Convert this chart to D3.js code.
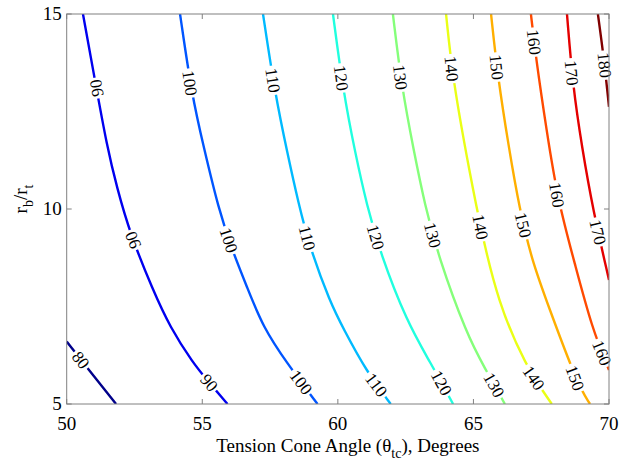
<!DOCTYPE html>
<html><head><meta charset="utf-8">
<script src="https://cdn.jsdelivr.net/npm/d3@7"></script>
<style>body{margin:0;background:#fff}svg{display:block}
text{font-family:"Liberation Serif","Times New Roman",Times,"DejaVu Serif",serif}</style>
</head><body>
<svg id="c" width="619" height="464"></svg>
<script>
// ---- data ----
const xTicks = [50, 55, 60, 65, 70];
const yTicks = [5, 10, 15];
const levels = [80, 90, 100, 110, 120, 130, 140, 150, 160, 170, 180];
const c80  = [[50,6.6],[50.9,5.8],[51.82,5.0]];
const c90  = [[50.6,15],[51.04,13.31],[51.49,11.59],[51.85,10.56],[52.33,9.38],[53.18,7.92],[53.81,6.97],[54.66,6.05],[55.17,5.62],[55.93,5.0]];
const c100 = [[54.18,15],[54.62,12.9],[55.05,11.6],[55.6,10.0],[56.10,8.95],[56.65,8.0],[57.24,6.97],[58.12,6.05],[59.25,5.0]];
const c110 = [[57.24,15],[57.68,12.97],[58.15,11.4],[58.53,10.2],[58.97,9.0],[59.71,7.62],[60.19,6.95],[61.07,5.82],[61.95,5.0]];
const c120 = [[59.82,15],[60.19,13.05],[60.65,11.4],[61.07,10.1],[61.55,8.9],[62.55,7.10],[63.40,6.08],[64.25,5.0]];
const c130 = [[62.03,15],[62.36,13.10],[62.8,11.5],[63.21,10.1],[63.7,8.8],[64.76,6.77],[65.42,5.92],[66.16,5.0]];
const c140 = [[63.99,15],[64.24,13.31],[64.87,10.9],[65.3,9.4],[65.90,7.64],[66.90,6.0],[67.89,5.0]];
const c150 = [[65.65,15],[65.90,13.38],[66.3,11.6],[66.70,10.0],[67.15,8.7],[67.75,7.54],[68.85,5.49],[69.30,5.0]];
const c160 = [[67.12,15],[67.30,13.9],[67.7,12.0],[68.12,10.2],[68.74,8.6],[69.37,6.95],[70,5.87]];
const c170 = [[68.45,15],[68.67,13.13],[69.0,11.6],[69.41,9.97],[70,8.18]];
const c180 = [[69.59,15],[69.82,13.82],[70,12.62]];
const contourLines = [c80, c90, c100, c110, c120, c130, c140, c150, c160, c170, c180];
// inline labels: level and the y-value where it sits
const labelLevels = [80, 90, 90, 90, 100, 100, 100, 110, 110, 110, 120, 120, 120, 130, 130, 130, 140, 140, 140, 150, 150, 150, 160, 160, 160, 170, 170, 180];
const labelY      = [6.13, 13.1, 9.2, 5.55, 13.23, 9.2, 5.56, 13.3, 9.26, 5.49, 13.36, 9.28, 5.54, 13.38, 9.33, 5.49, 13.6, 9.54, 5.67, 13.64, 9.59, 5.67, 14.28, 10.36, 6.31, 13.49, 9.41, 13.69];
const labelFlip   = [0, 1, 1, 0, 0, 0, 0, 0, 0, 0, 0, 0, 0, 0, 0, 0, 0, 0, 0, 0, 0, 0, 0, 0, 0, 0, 0, 0];

// ---- layout ----
const svg = d3.select('#c');
const L = 66.7, R = 609, T = 14, B = 404;
const x = d3.scaleLinear().domain([50, 70]).range([L, R]);
const y = d3.scaleLinear().domain([5, 15]).range([B, T]);

// jet colormap
const tScale = d3.scaleLinear().domain([79, 180]).range([0, 1]);
function jet(v) {
  const t = tScale(v);
  const c = a => Math.round(255 * Math.max(0, Math.min(1, a)));
  return `rgb(${c(1.5 - Math.abs(4*t - 3))},${c(1.5 - Math.abs(4*t - 2))},${c(1.5 - Math.abs(4*t - 1))})`;
}

svg.append('defs').append('clipPath').attr('id', 'clip')
  .append('rect').attr('x', L).attr('y', T).attr('width', R - L).attr('height', B - T);

const line = d3.line().x(d => x(d[0])).y(d => y(d[1])).curve(d3.curveBasis);
const gLines = svg.append('g').attr('clip-path', 'url(#clip)');
contourLines.forEach((pts, i) => {
  gLines.append('path').attr('d', line(pts)).attr('fill', 'none')
    .attr('stroke', jet(levels[i])).attr('stroke-width', 2.4).attr('stroke-linejoin', 'round');
});

// labels
const gLab = svg.append('g');
labelLevels.forEach((lv, k) => {
  const pts = contourLines[levels.indexOf(lv)];
  const yv = labelY[k];
  let px = null, ang = 0;
  for (let i = 0; i < pts.length - 1; i++) {
    const a = pts[i], b = pts[i + 1];
    if ((yv <= a[1] && yv >= b[1])) {
      const f = (a[1] - yv) / (a[1] - b[1]);
      px = a[0] + f * (b[0] - a[0]);
      const dx = x(b[0]) - x(a[0]), dy = y(b[1]) - y(a[1]);
      ang = Math.atan2(dy, dx) * 180 / Math.PI;
      break;
    }
  }
  if (px === null) return;
  if (labelFlip[k]) ang -= 180;
  const g = gLab.append('g').attr('transform', `translate(${x(px)},${y(yv)}) rotate(${ang})`);
  const txt = String(lv);
  const w = txt.length * 8.5 + 4;
  g.append('rect').attr('x', -w / 2).attr('y', -7).attr('width', w).attr('height', 14).attr('fill', '#fff');
  g.append('text').attr('text-anchor', 'middle').attr('dy', '0.35em')
    .attr('font-size', 17).attr('fill', '#000').text(txt);
});

// axes box and ticks
const axisColor = '#808080';
svg.append('rect').attr('x', L).attr('y', T).attr('width', R - L).attr('height', B - T)
  .attr('fill', 'none').attr('stroke', axisColor).attr('stroke-width', 1);
const tl = 5;
xTicks.forEach(v => {
  svg.append('line').attr('x1', x(v)).attr('x2', x(v)).attr('y1', B).attr('y2', B - tl).attr('stroke', axisColor);
  svg.append('line').attr('x1', x(v)).attr('x2', x(v)).attr('y1', T).attr('y2', T + tl).attr('stroke', axisColor);
  svg.append('text').attr('x', x(v)).attr('y', 430).attr('text-anchor', 'middle')
    .attr('font-size', 19).attr('fill', '#000').text(v);
});
yTicks.forEach(v => {
  svg.append('line').attr('x1', L).attr('x2', L + tl).attr('y1', y(v)).attr('y2', y(v)).attr('stroke', axisColor);
  svg.append('line').attr('x1', R).attr('x2', R - tl).attr('y1', y(v)).attr('y2', y(v)).attr('stroke', axisColor);
  svg.append('text').attr('x', L - 5).attr('y', y(v)).attr('dy', '0.33em').attr('text-anchor', 'end')
    .attr('font-size', 19).attr('fill', '#000').text(v);
});

// axis titles
const xt = svg.append('text').attr('x', (L + R) / 2 + 10).attr('y', 452).attr('text-anchor', 'middle')
  .attr('font-size', 19).attr('fill', '#000');
xt.append('tspan').text('Tension Cone Angle (θ');
xt.append('tspan').attr('font-size', 14).attr('dy', 6).text('tc');
xt.append('tspan').attr('dy', -6).text('), Degrees');

const yt = svg.append('text').attr('transform', `translate(27,${(T + B) / 2 - 10}) rotate(-90)`)
  .attr('text-anchor', 'middle').attr('font-size', 19).attr('fill', '#000');
yt.append('tspan').text('r');
yt.append('tspan').attr('font-size', 14).attr('dy', 6).text('b');
yt.append('tspan').attr('dy', -6).text('/r');
yt.append('tspan').attr('font-size', 14).attr('dy', 6).text('t');
</script>
</body></html>
